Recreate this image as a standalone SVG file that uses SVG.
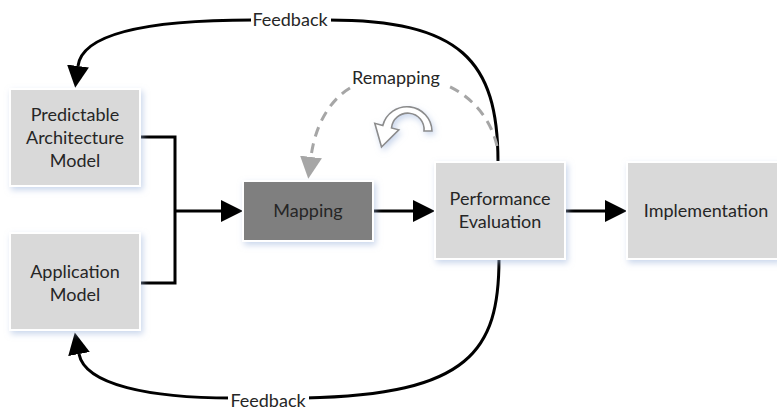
<svg xmlns="http://www.w3.org/2000/svg" width="777" height="412" viewBox="0 0 777 412">
  <defs>
    <filter id="shadow" x="-20%" y="-20%" width="150%" height="160%">
      <feDropShadow dx="2" dy="3" stdDeviation="3" flood-color="#9fb6dd" flood-opacity="0.55"/>
    </filter>
    <marker id="arrow" viewBox="0 0 22 22" markerWidth="22" markerHeight="22" refX="0" refY="11" orient="auto" markerUnits="userSpaceOnUse">
      <path d="M0,0 L22,11 L0,22 Z" fill="#000"/>
    </marker>
    <marker id="arrowGray" viewBox="0 0 22 22" markerWidth="22" markerHeight="22" refX="0" refY="11" orient="auto" markerUnits="userSpaceOnUse">
      <path d="M0,0 L22,11 L0,22 Z" fill="#a6a6a6"/>
    </marker>
  </defs>
  <style>
    .box { fill: #d9d9d9; stroke: #ffffff; stroke-width: 2; filter: url(#shadow); }
    .box-dark { fill: #7f7f7f; stroke: #ffffff; stroke-width: 2; filter: url(#shadow); }
    .label { font-family: Lato, "Liberation Sans", sans-serif; font-size: 18px; fill: #262626; text-anchor: middle; }
    .wire { fill: none; stroke: #000; stroke-width: 3; }
    .dash { fill: none; stroke: #a6a6a6; stroke-width: 3; stroke-dasharray: 10 7; }
  </style>

  <rect width="777" height="412" fill="#ffffff"/>

  <!-- connectors -->
  <g id="connectors">
    <!-- model outputs joined into mapping -->
    <path class="wire" d="M140,137 H175 V283 H140"/>
    <path class="wire" d="M175,211 H221" marker-end="url(#arrow)"/>
    <path class="wire" d="M373,211 H413" marker-end="url(#arrow)"/>
    <path class="wire" d="M565,211 H605" marker-end="url(#arrow)"/>
    <!-- feedback to architecture model -->
    <path class="wire" d="M498,162 C498,60 460,20 328,20 L253,20 C140,20 82,35 78,66" marker-end="url(#arrow)"/>
    <!-- feedback to application model -->
    <path class="wire" d="M499,259 C499,350 470,395 305,398 L232,398 C150,398 85,385 79,354" marker-end="url(#arrow)"/>
    <rect x="251" y="9" width="80" height="22" fill="#fff"/>
    <text class="label" x="290" y="26">Feedback</text>
    <rect x="228" y="388" width="81" height="24" fill="#fff"/>
    <text class="label" x="268" y="407">Feedback</text>
    <!-- remapping loop -->
    <path class="dash" d="M497,146 C490,115 468,94 444,84"/>
    <path class="dash" d="M350,88 C330,100 315,125 311,157" marker-end="url(#arrowGray)"/>
    <text class="label" x="396" y="84">Remapping</text>
    <!-- curved arrow icon -->
    <path d="M432,131 A25,25 0 0 0 382.8,125.5 L374.8,123.3 L381.5,147 L398.8,129.8 L391.5,127.9 A16,16 0 0 1 424,131 Z" fill="#ffffff" stroke="#8c8c8c" stroke-width="1.6" stroke-linejoin="miter" filter="url(#shadow)"/>
  </g>

  <g id="node-architecture">
    <rect class="box" x="10" y="89" width="130" height="97"/>
    <text class="label" x="75" y="121">Predictable</text>
    <text class="label" x="75" y="144">Architecture</text>
    <text class="label" x="75" y="167">Model</text>
  </g>

  <g id="node-application">
    <rect class="box" x="10" y="233" width="130" height="97"/>
    <text class="label" x="75" y="278">Application</text>
    <text class="label" x="75" y="301">Model</text>
  </g>

  <g id="node-mapping">
    <rect class="box-dark" x="243" y="181" width="130" height="60"/>
    <text class="label" x="308" y="217">Mapping</text>
  </g>

  <g id="node-performance">
    <rect class="box" x="435" y="162" width="130" height="97"/>
    <text class="label" x="500" y="205">Performance</text>
    <text class="label" x="500" y="228">Evaluation</text>
  </g>

  <g id="node-implementation">
    <rect class="box" x="627" y="162" width="152" height="97"/>
    <text class="label" x="706" y="217">Implementation</text>
  </g>
</svg>
